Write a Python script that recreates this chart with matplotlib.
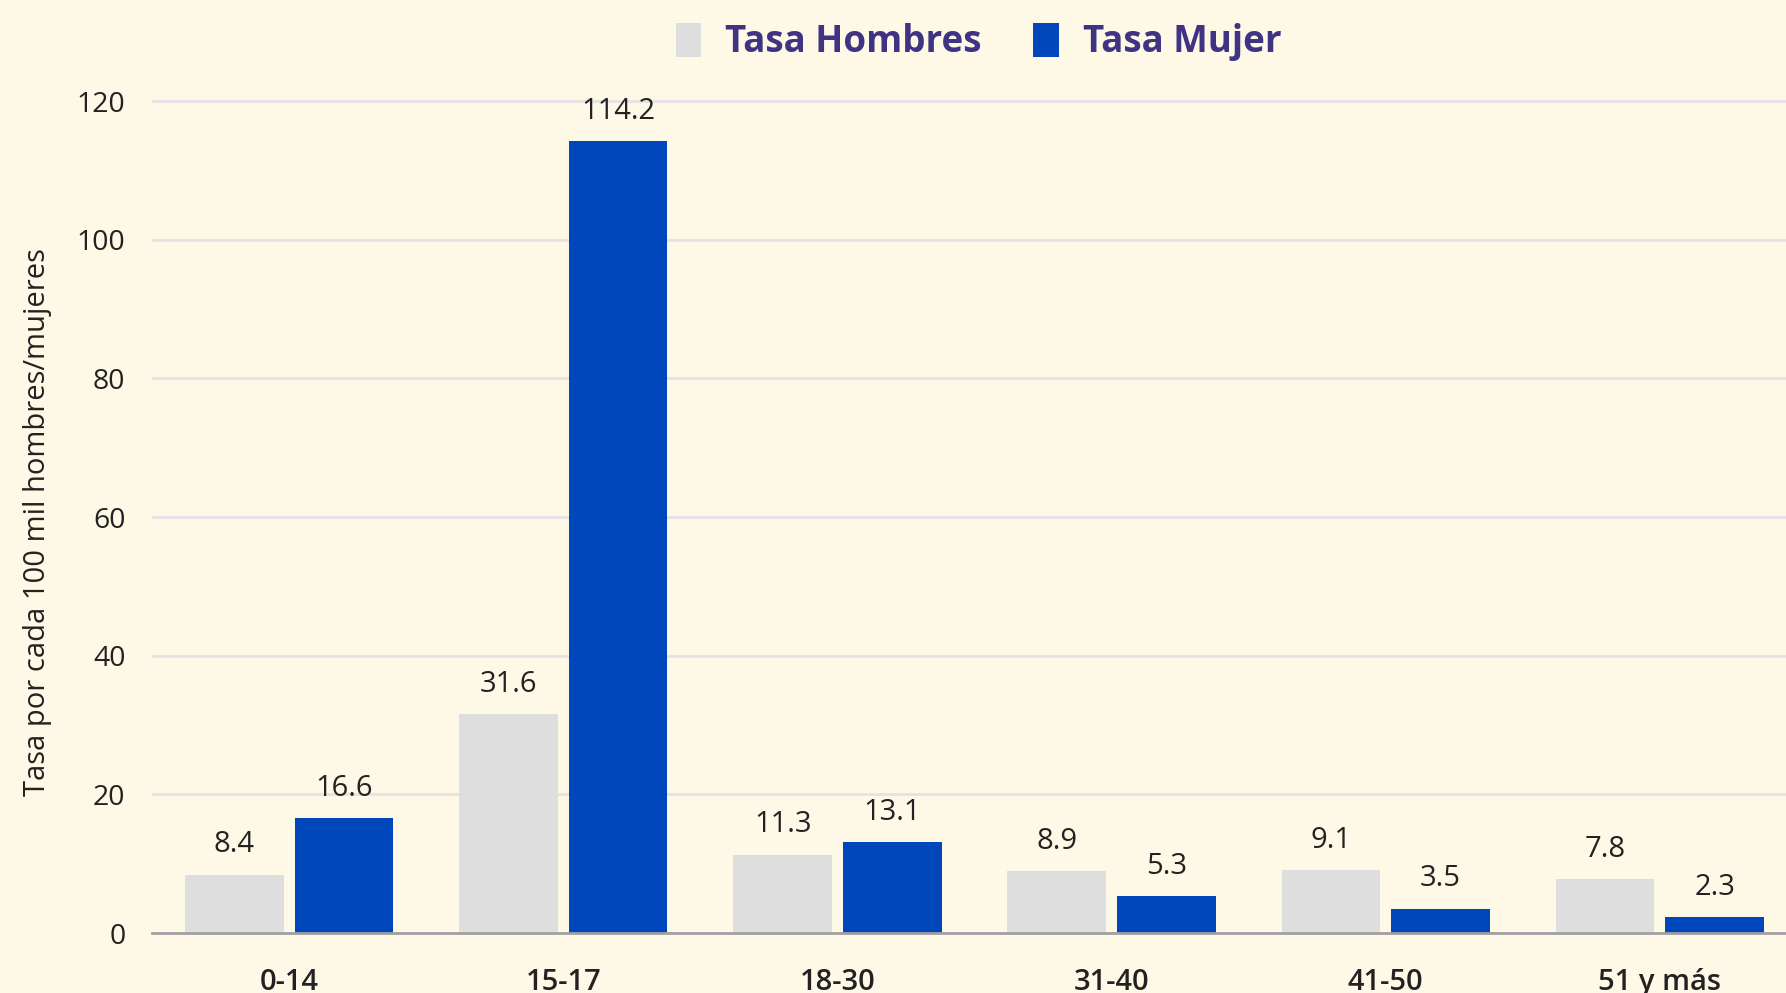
import numpy as np
import matplotlib.pyplot as plt
from matplotlib.patches import Patch

categorias = ['0-14', '15-17', '18-30', '31-40', '41-50', '51 y más']
tasa_hombres = [8.4, 31.6, 11.3, 8.9, 9.1, 7.8]
tasa_mujer = [16.6, 114.2, 13.1, 5.3, 3.5, 2.3]
yticks = [0, 20, 40, 60, 80, 100, 120]

BG = '#FEF9E6'
GRIS = '#DEDEDE'
AZUL = '#0047BB'
TXT = '#222222'
LEYENDA = '#3F3384'

plt.rcParams['font.family'] = ['Open Sans', 'DejaVu Sans']

W, H = 1786, 993
fig = plt.figure(figsize=(W / 100, H / 100), dpi=100, facecolor=BG)
# zero line at y=933px, 120 at y=101px; right side cropped at image edge
y0, y120 = 933, 101
top_val = 122
px_per = (y0 - y120) / 120
ax = fig.add_axes([152 / W, (H - y0) / H, (W - 152) / W, top_val * px_per / H])
ax.set_facecolor(BG)

x = np.arange(len(categorias))
ancho = 0.36
b1 = ax.bar(x - 0.2, tasa_hombres, ancho, color=GRIS, zorder=3)
b2 = ax.bar(x + 0.2, tasa_mujer, ancho, color=AZUL, zorder=3)

for barras, vals in ((b1, tasa_hombres), (b2, tasa_mujer)):
    for r, v in zip(barras, vals):
        ax.annotate(f'{v:.1f}', (r.get_x() + r.get_width() / 2, v),
                    xytext=(0, 11), textcoords='offset points',
                    ha='center', va='bottom', fontsize=21, color=TXT)

ax.set_xlim(-0.5, 5.46)
ax.set_ylim(0, top_val)
ax.set_yticks(yticks)
ax.set_xticks(x)
ax.set_xticklabels(categorias, fontsize=21, color=TXT, fontweight='semibold')
ax.tick_params(axis='y', length=0, pad=19, labelsize=20.5, labelcolor=TXT)
ax.tick_params(axis='x', length=0, pad=25)
ax.grid(axis='y', color='#E3E3E3', linewidth=2, zorder=0)
for s in ('top', 'right', 'left'):
    ax.spines[s].set_visible(False)
ax.spines['bottom'].set_color('#A0A0A0')
ax.spines['bottom'].set_linewidth(2)
ax.spines['bottom'].set_zorder(4)

ax.set_ylabel('Tasa por cada 100 mil hombres/mujeres', fontsize=21, color=TXT)
ax.yaxis.set_label_coords(-0.061, 0.486)

handles = [Patch(facecolor=GRIS, label='Tasa Hombres'), Patch(facecolor=AZUL, label='Tasa Mujer')]
leg = fig.legend(handles=handles, loc='center', bbox_to_anchor=(0.548, 1 - 42 / H), ncol=2,
                 frameon=False, prop={'size': 26.5, 'weight': 'bold'},
                 handlelength=0.7, handleheight=1.05, handletextpad=0.65, columnspacing=1.4)
for t in leg.get_texts():
    t.set_color(LEYENDA)

fig.savefig('out.png', dpi=100, facecolor=BG)
